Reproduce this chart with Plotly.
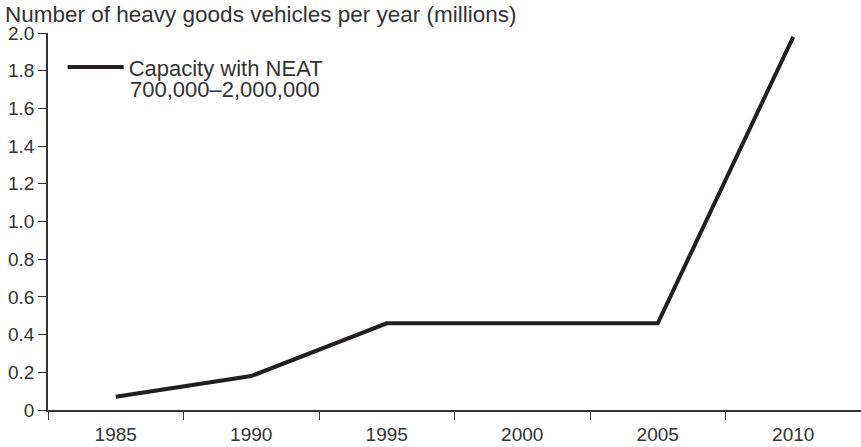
import plotly.graph_objects as go

years = ["1985", "1990", "1995", "2000", "2005", "2010"]
capacity = [0.07, 0.18, 0.46, 0.46, 0.46, 1.98]
y_ticks = [0, 0.2, 0.4, 0.6, 0.8, 1.0, 1.2, 1.4, 1.6, 1.8, 2.0]
y_tick_text = ["0", "0.2", "0.4", "0.6", "0.8", "1.0", "1.2", "1.4", "1.6", "1.8", "2.0"]
series_name = "Capacity with NEAT"
series_range = "700,000–2,000,000"
title_text = "Number of heavy goods vehicles per year (millions)"

font_family = "Liberation Sans, Arial, sans-serif"
ink = "#231f20"
grey = "#333333"

fig = go.Figure()
fig.add_trace(go.Scatter(
    x=years, y=capacity, mode="lines",
    name=series_name,
    line=dict(color=ink, width=4),
))

fig.update_layout(
    width=861, height=447,
    margin=dict(l=48, r=0, t=33, b=37),
    paper_bgcolor="white", plot_bgcolor="white",
    font=dict(family=font_family, size=19, color=grey),
    showlegend=True,
    legend=dict(x=0.018, y=0.965, xanchor="left", yanchor="top",
                bgcolor="rgba(0,0,0,0)", itemwidth=56,
                font=dict(size=22, color=grey)),
    xaxis=dict(type="category", tickson="boundaries", ticks="outside",
               ticklen=8, tickwidth=1.2, tickcolor=grey, automargin=False,
               showline=True, linecolor=grey, linewidth=1.5,
               showgrid=False, zeroline=False, range=[-0.5, 5.5],
               ticklabelstandoff=6, tickfont=dict(size=19)),
    yaxis=dict(range=[0, 2.0], tickvals=y_ticks, ticktext=y_tick_text,
               ticks="outside", ticklen=8, tickwidth=1.2, tickcolor=grey,
               automargin=False,
               showline=True, linecolor=grey, linewidth=1.5,
               showgrid=False, zeroline=False, tickfont=dict(size=19)),
    annotations=[
        dict(text=title_text, xref="paper", yref="paper", x=-48/813, y=1,
             yshift=33, xanchor="left", yanchor="top", showarrow=False,
             xshift=3, font=dict(size=22.5, color=grey)),
        dict(text=series_range, xref="paper", yref="paper", x=(130-48)/813,
             y=(410-89)/377, xanchor="left", yanchor="middle", showarrow=False,
             xshift=-2, font=dict(size=22, color=grey)),
    ],
)

fig.write_html("out.html", config={"displayModeBar": False},
               post_script="document.body.style.margin='0';")
